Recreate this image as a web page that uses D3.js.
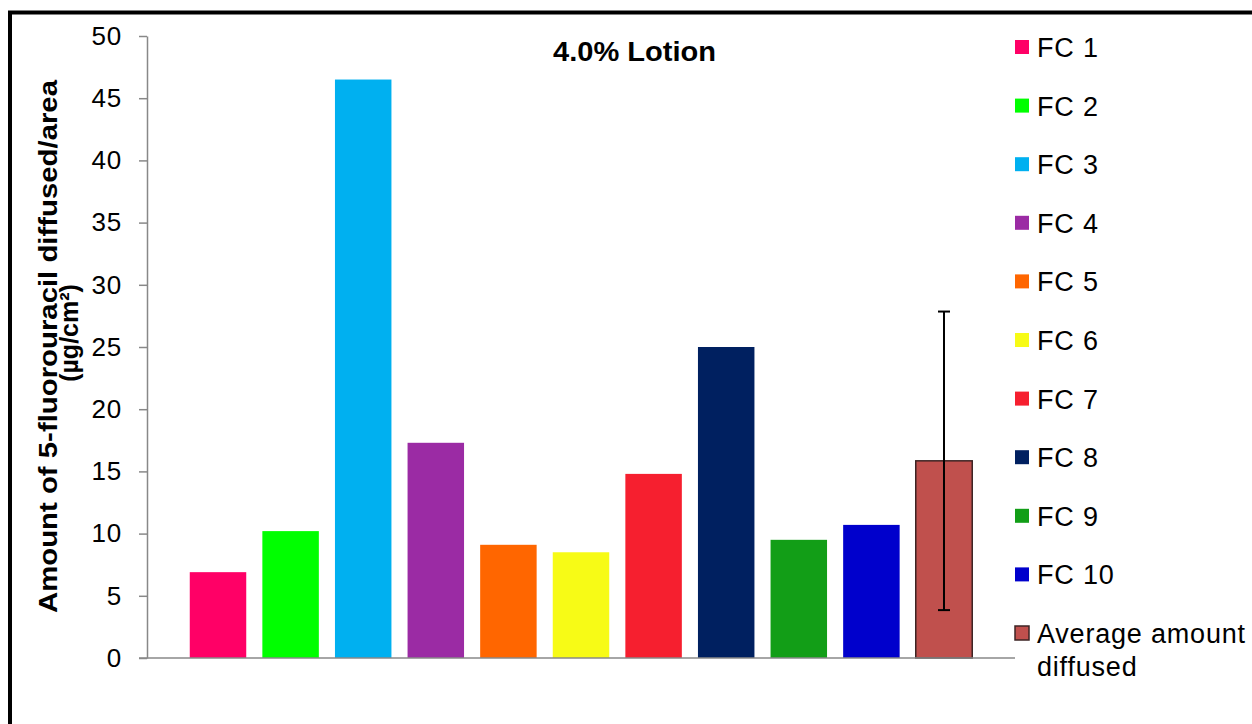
<!DOCTYPE html>
<html>
<head>
<meta charset="utf-8">
<script src="https://cdn.jsdelivr.net/npm/d3@7"></script>
<style>
  html, body { margin: 0; padding: 0; background: #fff; }
  svg { display: block; }
  text { font-family: "Liberation Sans", Arial, sans-serif; }
</style>
</head>
<body>
<svg id="chart" width="1252" height="724"></svg>
<script>
// ---- data ----
const categories = ["FC 1", "FC 2", "FC 3", "FC 4", "FC 5", "FC 6", "FC 7", "FC 8", "FC 9", "FC 10", "Average amount diffused"];
const values = [6.9, 10.2, 46.5, 17.3, 9.1, 8.5, 14.8, 25.0, 9.5, 10.7, 15.85];
const errorValues = [null, null, null, null, null, null, null, null, null, null, 12.0];
const colors = ["#FF0066", "#00FF00", "#00B0F0", "#9B2BA4", "#FF6600", "#F7FB16", "#F61F2F", "#002060", "#129E17", "#0000CC", "#C0504D"];
const legendLabels = [["FC 1"], ["FC 2"], ["FC 3"], ["FC 4"], ["FC 5"], ["FC 6"], ["FC 7"], ["FC 8"], ["FC 9"], ["FC 10"], ["Average amount", "diffused"]];
const yTicks = [0, 5, 10, 15, 20, 25, 30, 35, 40, 45, 50];
const title = "4.0% Lotion";
const yLabelLines = ["Amount of 5-fluorouracil diffused/area", "(µg/cm²)"];

const svg = d3.select("#chart");

// frame
svg.append("path")
  .attr("d", "M10,724 V12.5 H1252")
  .attr("fill", "none")
  .attr("stroke", "#000")
  .attr("stroke-width", 4);

const plot = { left: 147, right: 1015, top: 36, bottom: 658 };

const x = d3.scaleBand()
  .domain(categories)
  .range([plot.left, plot.right])
  .paddingInner(0.222)
  .paddingOuter(0.589);

const y = d3.scaleLinear().domain([0, 50]).range([plot.bottom, plot.top]);

// bars
const data = categories.map((c, i) => ({ c, v: values[i], e: errorValues[i], col: colors[i] }));
svg.append("g").selectAll("rect")
  .data(data)
  .join("rect")
  .attr("x", d => x(d.c))
  .attr("y", d => y(d.v))
  .attr("width", x.bandwidth())
  .attr("height", d => y(0) - y(d.v))
  .attr("fill", d => d.col)
  .attr("stroke", (d, i) => i === categories.length - 1 ? "#3d2424" : "none")
  .attr("stroke-width", 1.5);

// y axis
const yAxis = d3.axisLeft(y).tickValues(yTicks).tickSize(8).tickPadding(17).tickSizeOuter(0);
const gy = svg.append("g").attr("transform", `translate(${plot.left},0)`).call(yAxis);
gy.select(".domain").attr("stroke", "#888").attr("stroke-width", 1.5);
gy.selectAll(".tick line").attr("stroke", "#888").attr("stroke-width", 1.5);
gy.selectAll(".tick text")
  .attr("font-family", "'Liberation Sans', Arial, sans-serif")
  .attr("font-size", 26)
  .attr("letter-spacing", 0.8)
  .attr("fill", "#000");

// x axis line
const xAxis = d3.axisBottom(x).tickSize(0).tickFormat("");
const gx = svg.append("g").attr("transform", `translate(0,${plot.bottom})`).call(xAxis);
gx.select(".domain").attr("stroke", "#888").attr("stroke-width", 1.5)
  .attr("d", `M${plot.left - 8},0H${plot.right}`);

// error bars
const eb = svg.append("g");
data.filter(d => d.e != null).forEach(d => {
  const cx = x(d.c) + x.bandwidth() / 2;
  const y1 = y(d.v + d.e), y0 = y(d.v - d.e);
  eb.append("line").attr("x1", cx).attr("x2", cx).attr("y1", y1).attr("y2", y0)
    .attr("stroke", "#000").attr("stroke-width", 2);
  [y1, y0].forEach(yy => eb.append("line")
    .attr("x1", cx - 6).attr("x2", cx + 6).attr("y1", yy).attr("y2", yy)
    .attr("stroke", "#000").attr("stroke-width", 2));
});

// title
svg.append("text")
  .attr("x", 553).attr("y", 61)
  .attr("font-size", 28)
  .attr("font-weight", "bold")
  .attr("textLength", 163)
  .attr("lengthAdjust", "spacingAndGlyphs")
  .text(title);

// y label
const yl = svg.append("text")
  .attr("transform", "rotate(-90)")
  .attr("font-size", 25)
  .attr("font-weight", "bold");
yl.append("tspan").attr("x", -613).attr("y", 57)
  .attr("textLength", 533).attr("lengthAdjust", "spacingAndGlyphs")
  .text(yLabelLines[0]);
const yl2 = svg.append("text")
  .attr("transform", "rotate(-90)")
  .attr("font-size", 25)
  .attr("font-weight", "bold")
  .attr("text-anchor", "middle");
yl2.append("tspan").attr("x", -333).attr("y", 77.5).text(yLabelLines[1]);

// legend
const lg = svg.append("g");
legendLabels.forEach((lines, i) => {
  const cy = 47 + i * 58.6;
  lg.append("rect")
    .attr("x", 1015).attr("y", cy - 7)
    .attr("width", 14).attr("height", 14)
    .attr("fill", colors[i])
    .attr("stroke", i === legendLabels.length - 1 ? "#3d2424" : "none")
    .attr("stroke-width", 1.5);
  const t = lg.append("text").attr("font-size", 27).attr("letter-spacing", 0.8).attr("fill", "#000");
  lines.forEach((ln, j) => {
    t.append("tspan").attr("x", 1037).attr("y", cy + 10 + j * 33).text(ln);
  });
});
</script>
</body>
</html>
